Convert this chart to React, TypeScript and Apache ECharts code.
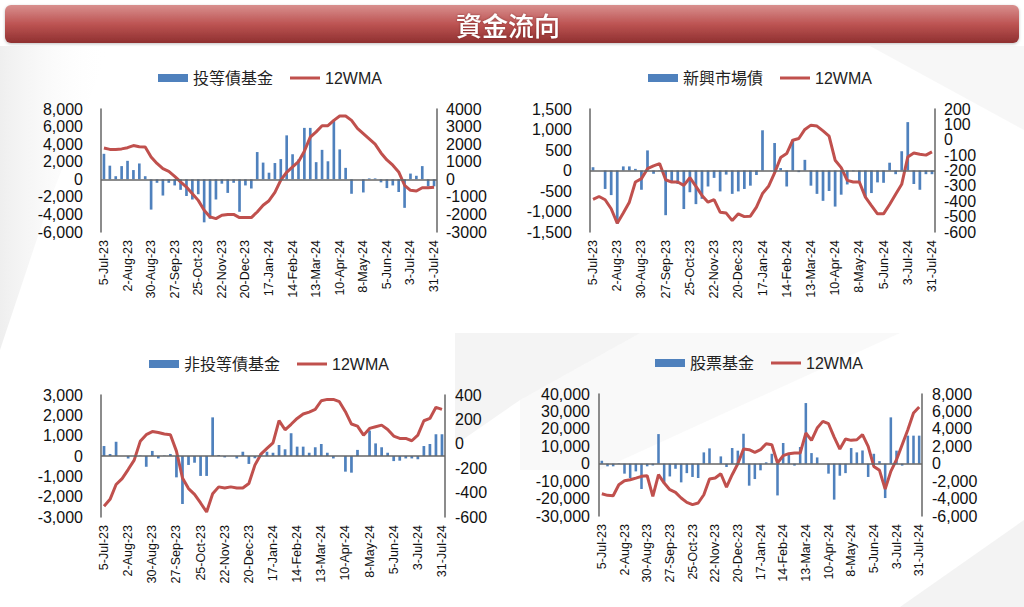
import React, { useEffect, useRef } from "react";
import * as echarts from "echarts";

// ---------- data ----------
const weeks = [
  "5-Jul-23", "12-Jul-23", "19-Jul-23", "26-Jul-23", "2-Aug-23", "9-Aug-23", "16-Aug-23", "23-Aug-23",
  "30-Aug-23", "6-Sep-23", "13-Sep-23", "20-Sep-23", "27-Sep-23", "4-Oct-23", "11-Oct-23", "18-Oct-23",
  "25-Oct-23", "1-Nov-23", "8-Nov-23", "15-Nov-23", "22-Nov-23", "29-Nov-23", "6-Dec-23", "13-Dec-23",
  "20-Dec-23", "27-Dec-23", "3-Jan-24", "10-Jan-24", "17-Jan-24", "24-Jan-24", "31-Jan-24", "7-Feb-24",
  "14-Feb-24", "21-Feb-24", "28-Feb-24", "6-Mar-24", "13-Mar-24", "20-Mar-24", "27-Mar-24", "3-Apr-24",
  "10-Apr-24", "17-Apr-24", "24-Apr-24", "1-May-24", "8-May-24", "15-May-24", "22-May-24", "29-May-24",
  "5-Jun-24", "12-Jun-24", "19-Jun-24", "26-Jun-24", "3-Jul-24", "10-Jul-24", "17-Jul-24", "24-Jul-24",
  "31-Jul-24",
];

// 投等債基金
const igFlow = [2900, 1550, 350, 1500, 2100, 1050, 1800, 350, -3450, -400, -1850, -400, -700, -1200, -1900, -2300, -1700, -4900, -4500, -2300, -500, -1550, -400, -3700, -700, -1050, 3100, 1900, 750, 1850, 2300, 5000, 2850, 2250, 5850, 5850, 1950, 3350, 2050, 6700, 3400, 1300, -1650, 0, -1500, 100, 100, -350, -1000, -700, -1450, -3250, 650, 400, 1500, -800, -800];
const igWma = [1780, 1700, 1700, 1730, 1800, 1920, 1850, 1840, 1270, 900, 600, 450, 170, -150, -440, -820, -1200, -1760, -2140, -2240, -2050, -2000, -2000, -2180, -2180, -2180, -1860, -1480, -1220, -750, -50, 400, 700, 1000, 1600, 2400, 2700, 3050, 3050, 3350, 3600, 3600, 3350, 2900, 2600, 2300, 2000, 1500, 1100, 800, 420, -340, -630, -670, -480, -480, -450];

// 新興市場債
const emFlow = [80, 0, -450, -600, -1300, 100, 100, 40, -470, 490, -80, -10, -1090, -260, -330, -940, -530, -820, -690, -390, -180, -510, -100, -570, -510, -450, -370, -110, 980, 0, 670, 60, -390, 760, -40, 260, -370, -570, -740, -500, -880, -590, -340, -20, -280, -650, -550, -290, -300, 190, -90, 470, 1180, -330, -470, -90, -90];
const emWma = [-388, -369, -390, -449, -543, -477, -406, -275, -253, -188, -170, -155, -260, -275, -275, -297, -247, -303, -362, -406, -390, -471, -477, -526, -482, -500, -497, -438, -350, -303, -216, -116, -90, -3, 8, 67, 95, 89, 58, 24, -133, -181, -264, -275, -275, -373, -428, -482, -482, -421, -355, -290, -112, -86, -94, -100, -79];
// right-axis tick labels of the 新興市場債 panel (bottom to top)
const emRightTicks = ["-600", "-500", "-400", "-300", "-200", "-100", "0", "100", "200"];

// 非投等債基金
const hyFlow = [490, 100, 700, 0, -120, 0, 20, -530, 250, -120, 20, 100, -1050, -2360, -440, -330, -980, -980, 1900, 50, -70, 0, -120, 210, -390, -110, 130, 210, 160, 540, 330, 1120, 460, 460, 160, 430, 590, 160, -120, 0, -770, -820, 300, 0, 1250, 620, 430, 160, -250, -230, -120, -120, -160, 490, 590, 1070, 1070];
const hyWma = [-512, -455, -334, -285, -211, -134, 20, 75, 100, 92, 80, 75, -60, -280, -367, -414, -485, -559, -410, -353, -362, -353, -362, -362, -326, -175, -85, -38, 8, 190, 115, 160, 208, 244, 260, 282, 353, 364, 364, 345, 263, 162, 145, 71, 126, 140, 153, 118, 63, 44, 44, 25, 71, 189, 208, 299, 282];

// 股票基金
const eqFlow = [1700, -1500, -1500, 300, -5700, -8200, -4400, -14500, -1500, -1000, 17000, -10700, -7300, -2900, -10700, -5400, -7600, -8200, 6500, 8800, 0, 4200, -1900, 9000, 7500, 17200, -12600, -8800, -3800, 800, 5700, -18200, 11900, 5200, -1100, 9600, 34800, 6100, 3600, 0, -5700, -20600, -6900, -5400, 9000, 6500, 7600, -7600, 5700, 1500, -19700, 26600, 7500, -1100, 16100, 16100, 16100];
const eqWma = [-3440, -3630, -3670, -2410, -1950, -1840, -1650, -1450, -1380, -3750, -1260, -2220, -2980, -3290, -3940, -4440, -4700, -4510, -3560, -1760, -1640, -1150, -2680, -1260, 0, 1680, 1610, 1300, 1610, 2290, 2180, 80, 920, 1150, 1220, 1220, 3520, 2680, 4090, 4860, 4590, 3060, 1680, 2830, 2680, 2750, 3330, 1990, -310, -760, -2910, -880, 460, 2180, 3900, 5810, 6500];

const seriesNames = ["投等債基金", "新興市場債", "非投等債基金", "股票基金"];
const lineName = "12WMA";
const titleText = "資金流向";

// ---------- style ----------
const FONT = "'Liberation Sans', Arial, 'Noto Sans CJK TC', sans-serif";
const BAR = "#4f81bd";
const LINE = "#c0504d";
const AXIS = "#666666";
const TXT = "#111111";

const comma = (v: number) => v.toLocaleString("en-US");
const plain = (v: number) => String(v);

const panels = [
  {
    name: seriesNames[0], bars: igFlow, wma: igWma,
    grid: { left: 101, top: 109, width: 336, height: 123 },
    left: { min: -6000, max: 8000, interval: 2000, fmt: comma, margin: 18 },
    right: { min: -3000, max: 4000, interval: 1000, fmt: plain, margin: 9 },
    rightTicks: null as string[] | null,
    legend: { left: 158, top: 70 },
  },
  {
    name: seriesNames[1], bars: emFlow, wma: emWma,
    grid: { left: 590, top: 109, width: 345, height: 123 },
    left: { min: -1500, max: 1500, interval: 500, fmt: comma, margin: 18 },
    right: { min: -600, max: 200, interval: 100, fmt: plain, margin: 9 },
    rightTicks: emRightTicks,
    legend: { left: 648, top: 70 },
  },
  {
    name: seriesNames[2], bars: hyFlow, wma: hyWma,
    grid: { left: 101, top: 395, width: 344, height: 122 },
    left: { min: -3000, max: 3000, interval: 1000, fmt: comma, margin: 18 },
    right: { min: -600, max: 400, interval: 200, fmt: plain, margin: 10 },
    rightTicks: null,
    legend: { left: 149, top: 356 },
  },
  {
    name: seriesNames[3], bars: eqFlow, wma: eqWma,
    grid: { left: 599, top: 394, width: 323, height: 122 },
    left: { min: -30000, max: 40000, interval: 10000, fmt: comma, margin: 9 },
    right: { min: -6000, max: 8000, interval: 2000, fmt: comma, margin: 10 },
    rightTicks: null,
    legend: { left: 655, top: 355 },
  },
];

function buildOption() {
  const grid: any[] = [];
  const xAxis: any[] = [];
  const yAxis: any[] = [];
  const extraY: any[] = [];
  const series: any[] = [];
  const legend: any[] = [];

  const lab = (fmt: (v: number) => string, margin: number) => ({
    margin,
    fontSize: 16,
    color: TXT,
    fontFamily: FONT,
    showMinLabel: true,
    showMaxLabel: true,
    formatter: fmt,
  });

  panels.forEach((p, i) => {
    grid.push({ ...p.grid, containLabel: false });
    xAxis.push({
      type: "category",
      gridIndex: i,
      data: weeks,
      boundaryGap: true,
      axisLine: { show: false },
      axisTick: { show: false },
      axisLabel: {
        interval: 3,
        rotate: 90,
        margin: 8,
        fontSize: 12.5,
        color: TXT,
        fontFamily: FONT,
      },
    });
    const yCommon = {
      type: "value",
      gridIndex: i,
      axisLine: { show: true, lineStyle: { color: AXIS, width: 1.5 } },
      axisTick: { show: false },
      splitLine: { show: false },
    };
    yAxis.push({
      ...yCommon,
      position: "left",
      min: p.left.min,
      max: p.left.max,
      interval: p.left.interval,
      axisLabel: lab(p.left.fmt, p.left.margin),
    });
    if (p.rightTicks) {
      // scale axis (hidden) + a label axis that shows every tick
      yAxis.push({
        ...yCommon,
        show: false,
        position: "right",
        min: p.right.min,
        max: p.right.max,
        interval: p.right.interval,
      });
      extraY.push({
        type: "category",
        gridIndex: i,
        position: "right",
        data: p.rightTicks,
        boundaryGap: false,
        axisLine: { show: true, lineStyle: { color: AXIS, width: 1.5 } },
        axisTick: { show: false },
        splitLine: { show: false },
        axisLabel: {
          interval: 0,
          margin: p.right.margin,
          fontSize: 16,
          color: TXT,
          fontFamily: FONT,
        },
      });
    } else {
      yAxis.push({
        ...yCommon,
        position: "right",
        min: p.right.min,
        max: p.right.max,
        interval: p.right.interval,
        axisLabel: lab(p.right.fmt, p.right.margin),
      });
    }
    series.push({
      type: "bar",
      name: p.name,
      xAxisIndex: i,
      yAxisIndex: 2 * i,
      data: p.bars,
      barWidth: "45%",
      itemStyle: { color: BAR },
      markLine: {
        silent: true,
        symbol: "none",
        label: { show: false },
        lineStyle: { color: AXIS, width: 1.5, type: "solid" },
        data: [{ yAxis: 0 }],
      },
    });
    series.push({
      type: "line",
      name: lineName,
      xAxisIndex: i,
      yAxisIndex: 2 * i + 1,
      data: p.wma,
      symbol: "none",
      lineStyle: { color: LINE, width: 3 },
      itemStyle: { color: LINE },
      z: 4,
    });
    legend.push({
      left: p.legend.left,
      top: p.legend.top,
      padding: 0,
      itemWidth: 30,
      itemHeight: 8,
      itemGap: 17,
      symbolKeepAspect: true,
      selectedMode: false,
      data: [
        { name: p.name, icon: "rect" },
        { name: lineName, icon: "path://M0,0L30,0L30,3L0,3Z" },
      ],
      textStyle: { fontSize: 16, color: "#222", fontFamily: FONT },
    });
  });

  const graphic: any[] = [
    // light decorative background shapes
    {
      type: "polygon", z: -10, silent: true,
      shape: { points: [[0, 46], [110, 46], [50, 200], [0, 350]] },
      style: {
        fill: new echarts.graphic.LinearGradient(0, 0, 1, 0, [
          { offset: 0, color: "rgba(200,200,200,0.3)" },
          { offset: 1, color: "rgba(255,255,255,0)" },
        ]),
      },
    },
    {
      type: "polygon", z: -10, silent: true,
      shape: { points: [[455, 333], [640, 333], [520, 400], [455, 445]] },
      style: { fill: "rgba(210,210,210,0.25)" },
    },
    {
      type: "polygon", z: -10, silent: true,
      shape: { points: [[640, 333], [900, 333], [600, 470], [520, 470], [520, 400]] },
      style: { fill: "rgba(225,225,225,0.2)" },
    },
    {
      type: "polygon", z: -10, silent: true,
      shape: { points: [[900, 607], [1024, 520], [1024, 607]] },
      style: { fill: "rgba(215,215,215,0.3)" },
    },
    {
      type: "polygon", z: -10, silent: true,
      shape: { points: [[870, 46], [1024, 46], [1024, 130]] },
      style: { fill: "rgba(225,225,225,0.25)" },
    },
    // title banner
    {
      type: "rect", z: 10, silent: true,
      shape: { x: 5, y: 5, width: 1014, height: 38, r: 6 },
      style: {
        fill: new echarts.graphic.LinearGradient(0, 0, 0, 1, [
          { offset: 0, color: "#d88f8e" },
          { offset: 0.5, color: "#bd5453" },
          { offset: 1, color: "#8f3030" },
        ]),
        shadowBlur: 3,
        shadowColor: "rgba(0,0,0,0.25)",
        shadowOffsetY: 1,
      },
    },
    {
      type: "text", z: 11, silent: true,
      x: 508, y: 24,
      style: {
        text: titleText,
        fill: "#ffffff",
        font: "500 26px 'Noto Sans CJK TC', sans-serif",
        align: "center",
        verticalAlign: "middle",
        textShadowBlur: 2,
        textShadowColor: "rgba(80,0,0,0.5)",
      },
    },
  ];

  return {
    animation: false,
    backgroundColor: "#ffffff",
    grid,
    xAxis,
    yAxis: [...yAxis, ...extraY],
    series,
    legend,
    graphic,
  };
}

export default function App() {
  const ref = useRef<HTMLDivElement>(null);
  useEffect(() => {
    if (!ref.current) return;
    const chart = echarts.init(ref.current, undefined, { renderer: "svg" });
    chart.setOption(buildOption() as any);
    return () => chart.dispose();
  }, []);
  return (
    <div
      ref={ref}
      style={{ position: "fixed", left: 0, top: 0, width: 1024, height: 607, background: "#fff" }}
    />
  );
}
